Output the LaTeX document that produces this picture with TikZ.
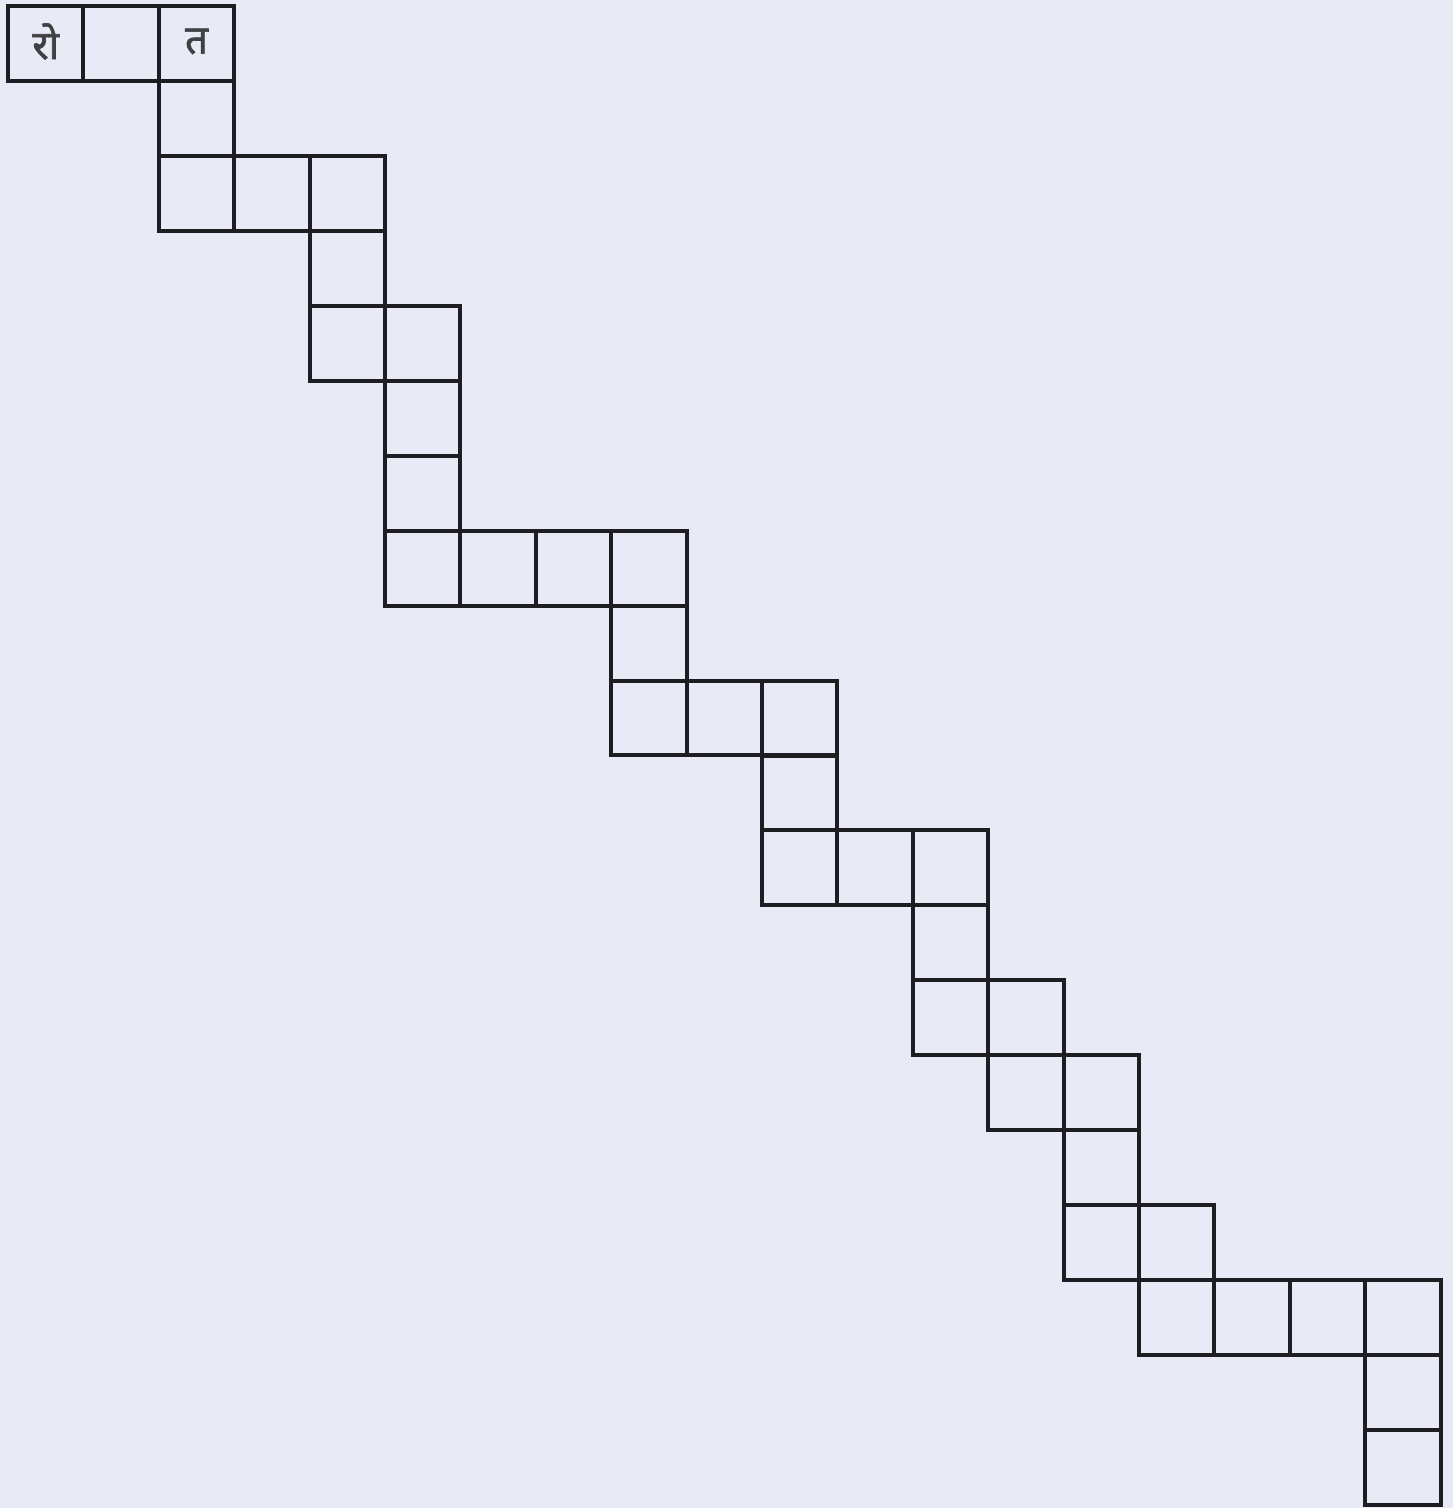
\documentclass[tikz,border=0pt]{standalone}
\usepackage{fontspec}
\newfontfamily\devfont[Script=Devanagari, FakeBold=1.6]{Noto Sans}
\definecolor{bg}{RGB}{232,234,246}
\definecolor{ink}{RGB}{30,30,34}
\begin{document}
\begin{tikzpicture}[x=0.5pt,y=-0.5pt,
  cell/.style={draw=ink, line width=2pt, minimum width=37.7pt, minimum height=37.47pt,
    inner sep=0pt, outer sep=0pt, anchor=north west},
  letter/.style={font=\devfont\fontsize{20}{22}\selectfont, text=ink!85, inner sep=0pt}]
\fill[bg] (0,0) rectangle (1453,1508);
\useasboundingbox (0,0) rectangle (1453,1508);
\foreach \c/\r in {0/0,1/0,2/0,
  2/1,
  2/2,3/2,4/2,
  4/3,
  4/4,5/4,
  5/5,5/6,
  5/7,6/7,7/7,8/7,
  8/8,
  8/9,9/9,10/9,
  10/10,
  10/11,11/11,12/11,
  12/12,
  12/13,13/13,
  13/14,14/14,
  14/15,
  14/16,15/16,
  15/17,16/17,17/17,18/17,
  18/18,18/19}
  \node[cell] (c\c-\r) at ({8+\c*75.4},{6+\r*74.95}) {};
\node[letter] (ro) at ([yshift=1pt]c0-0.center) {रो};
\node[letter] (ta) at ([yshift=1pt]c2-0.center) {त};
\end{tikzpicture}
\end{document}
